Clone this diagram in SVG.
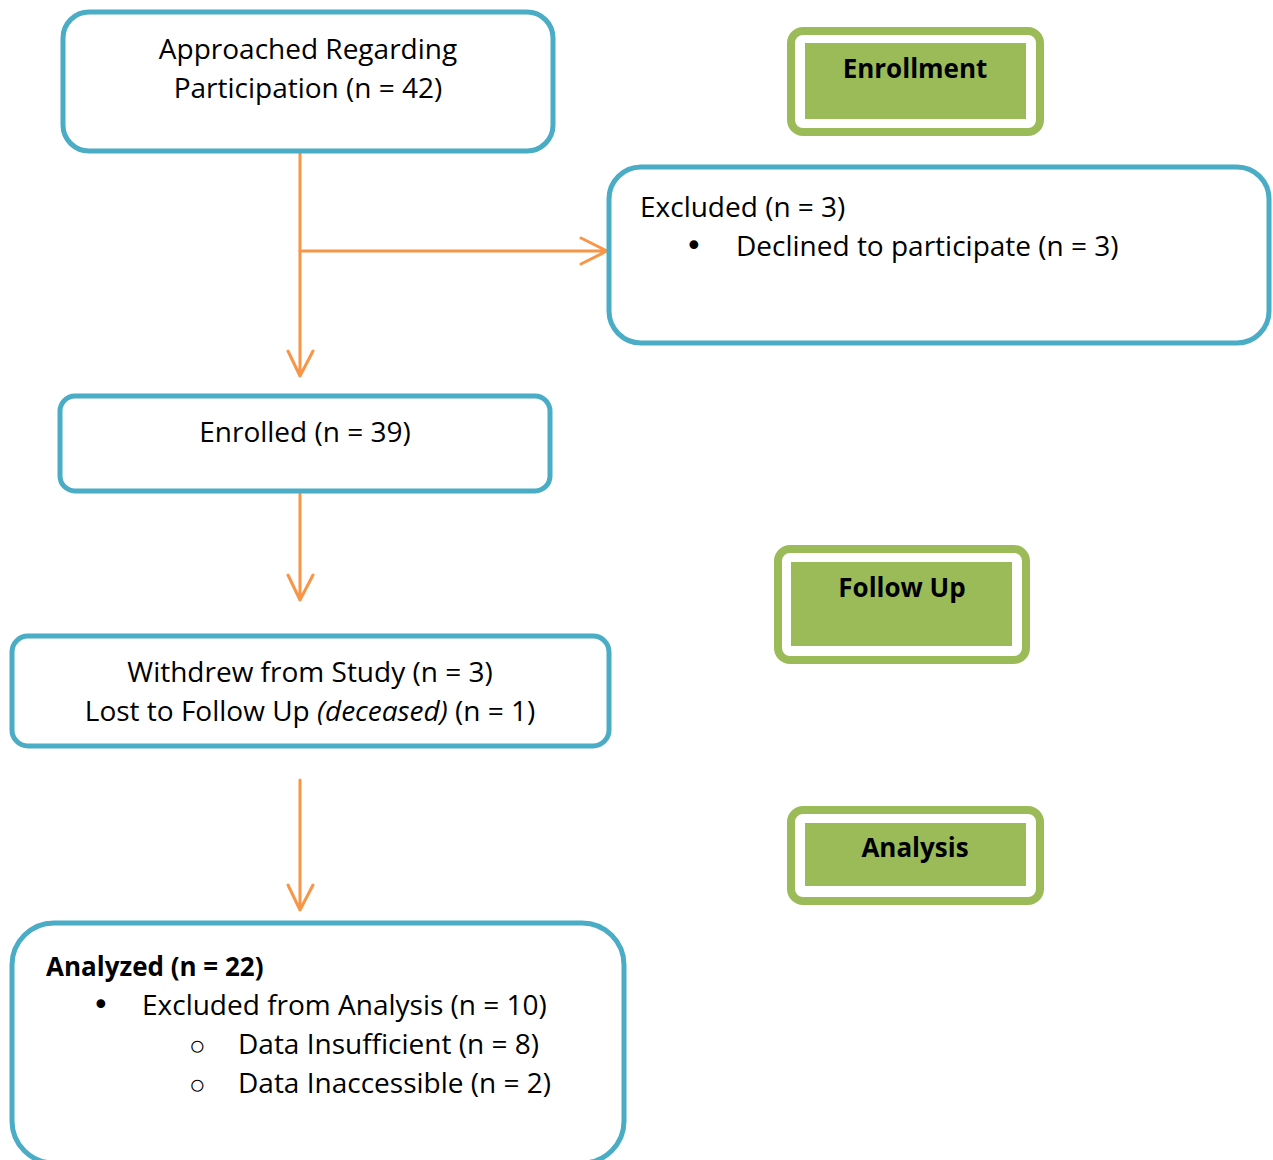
<svg xmlns="http://www.w3.org/2000/svg" width="1273" height="1160" viewBox="0 0 1273 1160">
<style>
.box{fill:#fff;stroke:#4BACC6;stroke-width:5}
.badge{fill:#fff;stroke:#9BBB59;stroke-width:8}
.badgein{fill:#9BBB59}
.t{font-family:"Open Sans","Liberation Sans",sans-serif;font-size:28px;fill:#000}
.b{font-family:"Open Sans","Liberation Sans",sans-serif;font-size:26px;font-weight:bold;fill:#000}
.bul{font-family:"DejaVu Sans",sans-serif;font-size:30px;fill:#000}
.c{text-anchor:middle}
.conn{stroke:#F79646;stroke-width:3;fill:none;stroke-linecap:round;stroke-linejoin:round}
</style>
<rect width="1273" height="1160" fill="#fff"/>
<g id="connectors">
<path class="conn" d="M300 153 V376 M288 351 L300 376 L313 351"/>
<path class="conn" d="M300 251 H607 M581 238 L607 251 L581 264"/>
<path class="conn" d="M300 492 V600 M288 575 L300 600 L313 575"/>
<path class="conn" d="M300 780 V910 M288 885 L300 910 L313 885"/>
</g>
<g id="approached">
<rect class="box" x="63" y="12" width="490" height="139" rx="26"/>
<text class="t c" x="308" y="59">Approached Regarding</text>
<text class="t c" x="308" y="98">Participation (n = 42)</text>
</g>
<g id="enrollment">
<rect class="badge" x="791" y="31" width="249" height="101" rx="12"/>
<rect class="badgein" x="805" y="43" width="221" height="76"/>
<text class="b c" x="915" y="78">Enrollment</text>
</g>
<g id="excluded">
<rect class="box" x="609" y="167" width="660" height="176" rx="32"/>
<text class="t" x="640" y="217">Excluded (n = 3)</text>
<text class="bul" x="685" y="256">•</text>
<text class="t" x="736" y="256">Declined to participate (n = 3)</text>
</g>
<g id="enrolled">
<rect class="box" x="60" y="396" width="490" height="95" rx="15"/>
<text class="t c" x="305" y="442">Enrolled (n = 39)</text>
</g>
<g id="followup">
<rect class="badge" x="778" y="549" width="248" height="111" rx="12"/>
<rect class="badgein" x="791" y="562" width="221" height="84"/>
<text class="b c" x="902" y="597">Follow Up</text>
</g>
<g id="withdrew">
<rect class="box" x="12" y="636" width="597" height="110" rx="16"/>
<text class="t c" x="310" y="682">Withdrew from Study (n = 3)</text>
<text class="t c" x="310" y="721">Lost to Follow Up <tspan font-style="italic">(deceased)</tspan> (n = 1)</text>
</g>
<g id="analysis">
<rect class="badge" x="791" y="810" width="249" height="91" rx="12"/>
<rect class="badgein" x="805" y="823" width="221" height="63"/>
<text class="b c" x="915" y="857">Analysis</text>
</g>
<g id="analyzed">
<rect class="box" x="12" y="923" width="612" height="240" rx="42"/>
<text class="b" x="46" y="976" font-size="27">Analyzed (n = 22)</text>
<text class="bul" x="92" y="1015">•</text>
<text class="t" x="142" y="1015">Excluded from Analysis (n = 10)</text>
<text class="t" x="189" y="1055" font-size="24">○</text>
<text class="t" x="238" y="1054">Data Insufficient (n = 8)</text>
<text class="t" x="189" y="1094" font-size="24">○</text>
<text class="t" x="238" y="1093">Data Inaccessible (n = 2)</text>
</g>
</svg>
